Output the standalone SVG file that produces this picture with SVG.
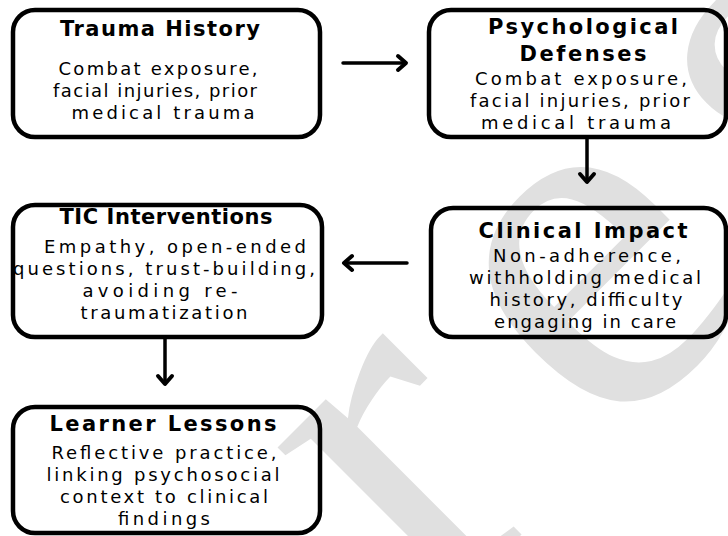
<svg xmlns="http://www.w3.org/2000/svg" width="728" height="536" viewBox="0 0 728 536">
<style>
.box{fill:none;stroke:#000;stroke-width:4.5}
.h{font-family:"DejaVu Sans","Liberation Sans",sans-serif;font-weight:bold;font-size:21px;text-anchor:middle;fill:#000}
.b{font-family:"DejaVu Sans","Liberation Sans",sans-serif;font-size:18px;text-anchor:middle;fill:#000}
.ln{fill:none;stroke:#000;stroke-width:3.5;stroke-linecap:round}
.hd{fill:none;stroke:#000;stroke-width:4;stroke-linecap:round;stroke-linejoin:round}
.wm{font-family:"Liberation Serif",serif;font-size:510px;letter-spacing:70px;fill:#e0e0e0}
</style>
<rect width="728" height="536" fill="#fff"/>
<g id="watermark"><text class="wm" transform="translate(206,850) rotate(-45)">ores</text></g>
<g id="connectors">
<line class="ln" x1="343" y1="63" x2="405" y2="63"/><path class="hd" d="M398,56 L406,63 L398,70"/>
<line class="ln" x1="587" y1="137" x2="587" y2="181"/><path class="hd" d="M580,174 L587,182 L594,174"/>
<line class="ln" x1="407" y1="263" x2="345" y2="263"/><path class="hd" d="M352,256 L344,263 L352,270"/>
<line class="ln" x1="165" y1="337" x2="165" y2="383"/><path class="hd" d="M158,376 L165,384 L172,376"/>
</g>
<g id="trauma-history">
<rect class="box" x="13" y="10" width="307" height="127" rx="22"/>
<text class="h" x="160" y="36" textLength="200" lengthAdjust="spacing">Trauma History</text>
<text class="b" x="158" y="75" textLength="199" lengthAdjust="spacing">Combat exposure,</text>
<text class="b" x="155" y="97" textLength="204" lengthAdjust="spacing">facial injuries, prior</text>
<text class="b" x="163" y="119" textLength="183" lengthAdjust="spacing">medical trauma</text>
</g>
<g id="psychological-defenses">
<rect class="box" x="429" y="10" width="297" height="127" rx="22"/>
<text class="h" x="583" y="34" textLength="190" lengthAdjust="spacing">Psychological</text>
<text class="h" x="583" y="61" textLength="127" lengthAdjust="spacing">Defenses</text>
<text class="b" x="581" y="85" textLength="212" lengthAdjust="spacing">Combat exposure,</text>
<text class="b" x="580" y="107" textLength="220" lengthAdjust="spacing">facial injuries, prior</text>
<text class="b" x="576" y="129" textLength="190" lengthAdjust="spacing">medical trauma</text>
</g>
<g id="clinical-impact">
<rect class="box" x="431" y="208" width="295" height="129" rx="22"/>
<text class="h" x="583" y="238" textLength="209" lengthAdjust="spacing">Clinical Impact</text>
<text class="b" x="587" y="262" textLength="188" lengthAdjust="spacing">Non-adherence,</text>
<text class="b" x="585" y="284" textLength="232" lengthAdjust="spacing">withholding medical</text>
<text class="b" x="586" y="306" textLength="193" lengthAdjust="spacing">history, difficulty</text>
<text class="b" x="585" y="328" textLength="182" lengthAdjust="spacing">engaging in care</text>
</g>
<g id="tic-interventions">
<rect class="box" x="13" y="205" width="309" height="132" rx="22"/>
<text class="h" x="166" y="224" textLength="213" lengthAdjust="spacing">TIC Interventions</text>
<text class="b" x="175" y="253" textLength="262" lengthAdjust="spacing">Empathy, open-ended</text>
<text class="b" x="164" y="275" textLength="302" lengthAdjust="spacing">questions, trust-building,</text>
<text class="b" x="160" y="297" textLength="155" lengthAdjust="spacing">avoiding re-</text>
<text class="b" x="164" y="319" textLength="167" lengthAdjust="spacing">traumatization</text>
</g>
<g id="learner-lessons">
<rect class="box" x="13" y="407" width="307" height="126" rx="22"/>
<text class="h" x="163" y="431" textLength="227" lengthAdjust="spacing">Learner Lessons</text>
<text class="b" x="164" y="459" textLength="225" lengthAdjust="spacing">Reflective practice,</text>
<text class="b" x="163" y="481" textLength="233" lengthAdjust="spacing">linking psychosocial</text>
<text class="b" x="164" y="503" textLength="208" lengthAdjust="spacing">context to clinical</text>
<text class="b" x="164" y="525" textLength="92" lengthAdjust="spacing">findings</text>
</g>
</svg>
